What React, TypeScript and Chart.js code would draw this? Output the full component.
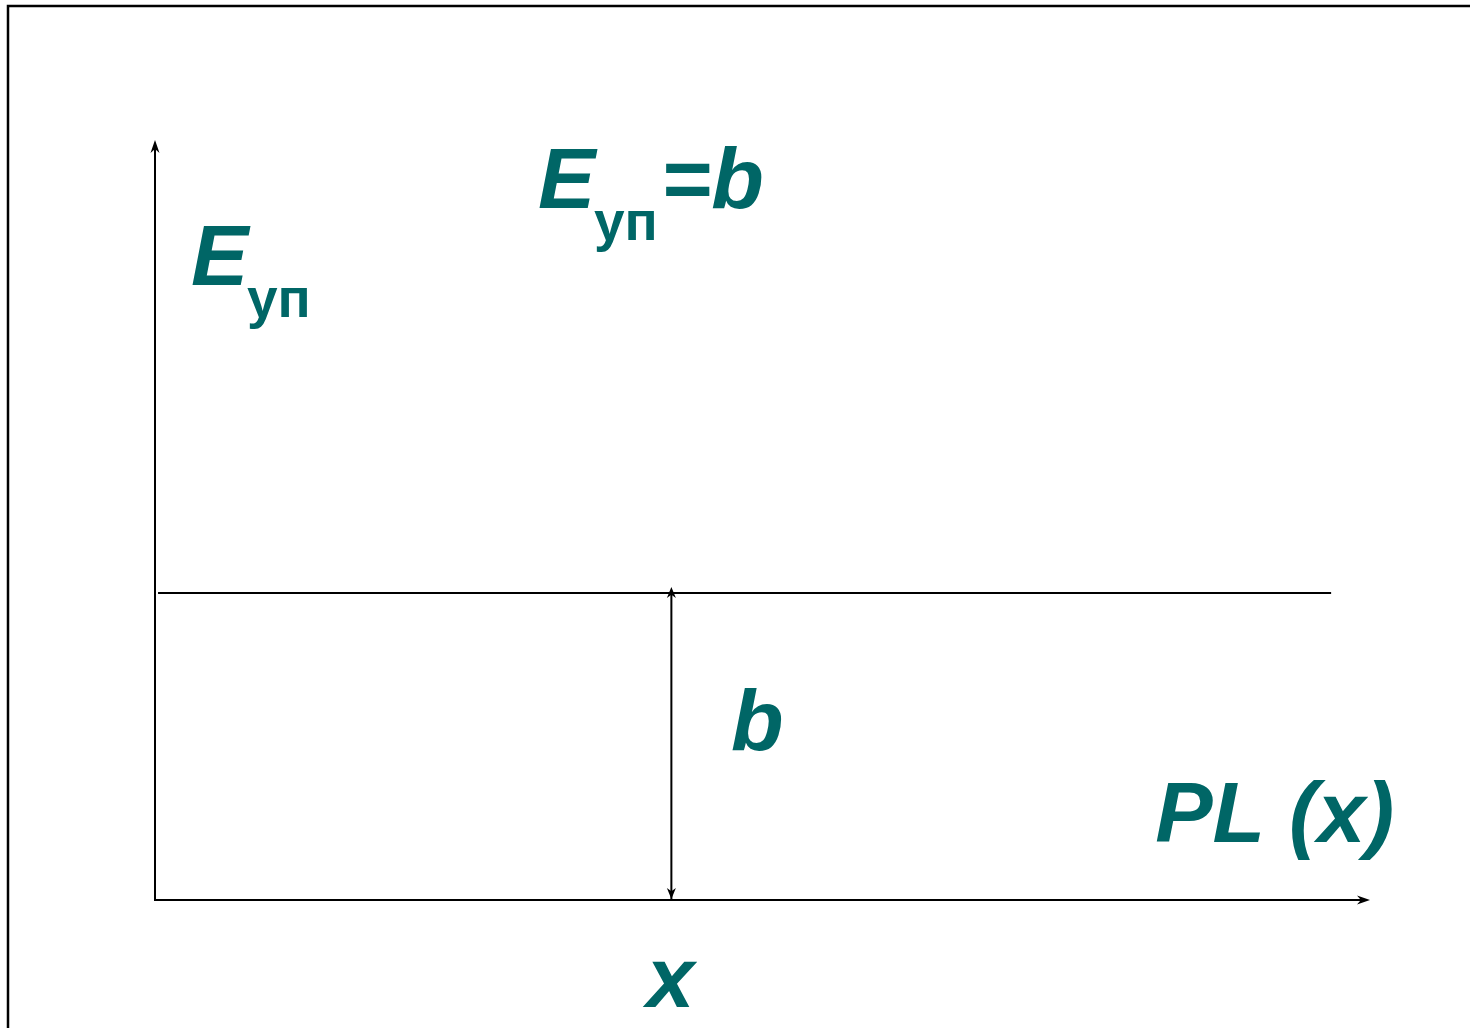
import React, { useEffect, useRef } from "react";
import { Chart, registerables } from "chart.js";

Chart.register(...registerables);

// Domain of the abstract axes
const X_RANGE = [0, 100];
const Y_RANGE = [0, 100];

// Constant cost line E_уп = b
const B_VALUE = 40.4;
const LINE_X = [0.25, 96.8];

// Chosen volume x where b is measured
const X_POINT = 42.5;

// Text labels
const LABEL_TEXTS = ["E", "уп", "=b", "b", "PL (x)", "x"];
// Label anchor values in axis units (x value, y value)
const LABEL_X = [2.96, 7.57, 31.52, 36.13, 41.65, 47.41, 82.32, 40.45];
const LABEL_Y = [80.92, 76.71, 91.05, 86.84, 91.05, 19.74, 7.63, -14.08];

const TEAL = "#006666";

function arrowHead(ctx: CanvasRenderingContext2D, tx: number, ty: number, dx: number, dy: number, len: number, hw: number) {
  const px = -dy, py = dx;
  ctx.beginPath();
  ctx.moveTo(tx, ty);
  ctx.lineTo(tx - dx * len + px * hw, ty - dy * len + py * hw);
  ctx.lineTo(tx - dx * len * 0.7, ty - dy * len * 0.7);
  ctx.lineTo(tx - dx * len - px * hw, ty - dy * len - py * hw);
  ctx.closePath();
  ctx.fill();
}

const diagramPlugin = {
  id: "diagram",
  beforeDraw(chart: any) {
    const ctx = chart.ctx as CanvasRenderingContext2D;
    ctx.save();
    ctx.fillStyle = "#ffffff";
    ctx.fillRect(0, 0, chart.width, chart.height);
    ctx.strokeStyle = "#000000";
    ctx.lineWidth = 2.5;
    ctx.strokeRect(8, 6, chart.width + 40, chart.height + 40);
    ctx.restore();
  },
  afterDatasetsDraw(chart: any) {
    const ctx = chart.ctx as CanvasRenderingContext2D;
    const xs = chart.scales.x;
    const ys = chart.scales.y;
    const x0 = xs.getPixelForValue(X_RANGE[0]);
    const x1 = xs.getPixelForValue(X_RANGE[1]);
    const y0 = ys.getPixelForValue(Y_RANGE[0]);
    const y1 = ys.getPixelForValue(Y_RANGE[1]);
    ctx.save();
    ctx.strokeStyle = "#000000";
    ctx.fillStyle = "#000000";
    ctx.lineWidth = 2;
    // axes
    ctx.beginPath();
    ctx.moveTo(x0, y1 + 6);
    ctx.lineTo(x0, y0);
    ctx.lineTo(x1 - 6, y0);
    ctx.stroke();
    arrowHead(ctx, x0, y1, 0, -1, 13, 4.5);
    arrowHead(ctx, x1, y0, 1, 0, 13, 4.5);
    // double arrow heads on measurement line
    const xp = xs.getPixelForValue(X_POINT);
    const yb = ys.getPixelForValue(B_VALUE);
    arrowHead(ctx, xp, yb - 6, 0, -1, 11, 4.5);
    arrowHead(ctx, xp, y0 - 1, 0, 1, 11, 4.5);

    // texts
    ctx.fillStyle = TEAL;
    ctx.textBaseline = "alphabetic";
    ctx.textAlign = "left";
    const big = "italic bold 86px 'Liberation Sans', Arial, sans-serif";
    const sub = "bold 55px 'Liberation Sans', Arial, sans-serif";
    const runs: [string, number, string][] = [
      [LABEL_TEXTS[0], 0, big],
      [LABEL_TEXTS[1], 1, sub],
      [LABEL_TEXTS[0], 2, big],
      [LABEL_TEXTS[1], 3, sub],
      [LABEL_TEXTS[2], 4, big],
      [LABEL_TEXTS[3], 5, big],
      [LABEL_TEXTS[4], 6, big],
      [LABEL_TEXTS[5], 7, big],
    ];
    for (const [t, i, f] of runs) {
      ctx.font = f;
      ctx.fillText(t, xs.getPixelForValue(LABEL_X[i]), ys.getPixelForValue(LABEL_Y[i]));
    }
    ctx.restore();
  },
};

export default function App() {
  const ref = useRef<HTMLCanvasElement | null>(null);
  useEffect(() => {
    document.body.style.margin = "0";
    const canvas = ref.current;
    if (!canvas) return;
    const chart = new Chart(canvas, {
      type: "scatter",
      data: {
        datasets: [
          {
            data: LINE_X.map((x) => ({ x, y: B_VALUE })),
            showLine: true,
            borderColor: "#000000",
            borderWidth: 2,
            pointRadius: 0,
          },
          {
            data: [
              { x: X_POINT, y: 0 },
              { x: X_POINT, y: B_VALUE },
            ],
            showLine: true,
            borderColor: "#000000",
            borderWidth: 2,
            pointRadius: 0,
          },
        ],
      },
      options: {
        animation: false,
        responsive: false,
        maintainAspectRatio: false,
        devicePixelRatio: 1,
        layout: { padding: { left: 155, right: 100, top: 140, bottom: 128 } },
        plugins: { legend: { display: false }, tooltip: { enabled: false } },
        events: [],
        scales: {
          x: { type: "linear", min: X_RANGE[0], max: X_RANGE[1], display: false },
          y: { type: "linear", min: Y_RANGE[0], max: Y_RANGE[1], display: false },
        },
      },
      plugins: [diagramPlugin],
    });
    return () => chart.destroy();
  }, []);
  return (
    <div style={{ position: "absolute", left: 0, top: 0 }}>
      <canvas ref={ref} width={1470} height={1028} style={{ display: "block" }} />
    </div>
  );
}
